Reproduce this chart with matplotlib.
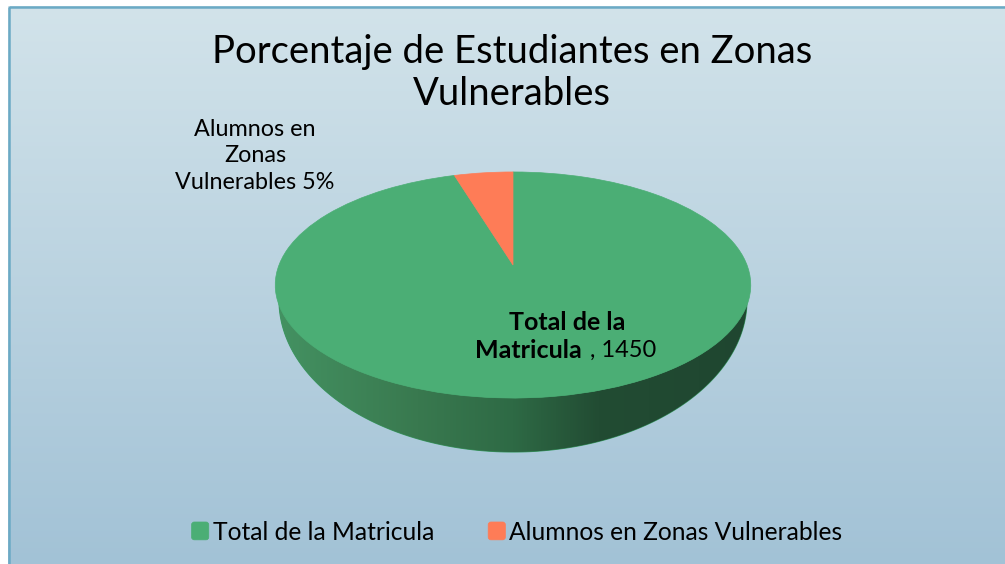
import numpy as np
import matplotlib
matplotlib.use("Agg")
import matplotlib.pyplot as plt
from matplotlib.colors import LinearSegmentedColormap
from matplotlib.legend_handler import HandlerPatch
from matplotlib.patches import FancyBboxPatch, PathPatch, Rectangle
from matplotlib.path import Path

# Data
categories = ["Total de la Matricula", "Alumnos en Zonas Vulnerables"]
values = [1450, 72]
colors = ["#4BAE75", "#FE7C57"]

plt.rcParams["font.family"] = ["Lato", "DejaVu Sans"]

W, H = 1005, 564
fig = plt.figure(figsize=(W / 100, H / 100), dpi=100)
ax = fig.add_axes([0, 0, 1, 1])

# pie first, unit circle, then pushed through a perspective map
wedges, _ = ax.pie(values, colors=colors, startangle=90, counterclock=False)

CX = 513
PERSP = 0.177


def project(verts):
    u, v = verts[:, 0], verts[:, 1]
    d = 1 + PERSP * v
    return np.column_stack([CX + 234 * u / d, (265 - 62.6 * v) / d])


def round_key(legend, orig_handle, xdescent, ydescent, width, height, fontsize):
    return FancyBboxPatch((-xdescent, -ydescent), width, height,
                          boxstyle="round,pad=0,rounding_size=2")


# background gradient
bg_cmap = LinearSegmentedColormap.from_list("bg", ["#D2E3EA", "#A2C2D6"])
bg = ax.imshow(np.linspace(0, 1, 256)[:, None], cmap=bg_cmap, extent=(8, 1006, 566, 6), zorder=0)

# side of the disc
t = np.linspace(np.pi, 0, 200)
top_x, top_y = CX + 236 * np.cos(t), 287 + 111 * np.sin(t)
low_x, low_y = CX + 234 * np.cos(t), 300 + 152 * np.sin(t)
side_xy = np.column_stack([np.r_[top_x, low_x[::-1]], np.r_[top_y, low_y[::-1]]])
side_patch = PathPatch(Path(np.r_[side_xy, side_xy[:1]], closed=True), fc="#3A9A63", ec="#3A9A63", lw=0.8, zorder=1)
ax.add_patch(side_patch)
side_cmap = LinearSegmentedColormap.from_list(
    "side",
    [(0, "#449262"), (0.3, "#39794F"), (0.5, "#2E6A45"), (0.68, "#224C33"), (1, "#1F4630")],
)
side = ax.imshow(np.linspace(0, 1, 256)[None, :], cmap=side_cmap, extent=(275, 751, 460, 280), zorder=2)
side.set_clip_path(PathPatch(side_patch.get_path(), transform=ax.transData))

# top of the disc
handles = []
for w, c in zip(wedges, colors):
    p = w.get_path()
    top = PathPatch(Path(project(p.vertices), p.codes), fc=c, ec=c, lw=0.5, zorder=3)
    ax.add_patch(top)
    handles.append(top)
    w.set_visible(False)

ax.set_aspect("auto")
ax.set_xlim(0, W)
ax.set_ylim(H, 0)
ax.axis("off")

# border
ax.add_patch(Rectangle((8.5, 6.5), 1000, 562, fc="none", ec="#6BAAC5", lw=1.8, zorder=4))

# texts
ax.text(512, 73, "Porcentaje de Estudiantes en Zonas\nVulnerables", fontsize=27.5,
        ha="center", va="center", linespacing=1.22, zorder=5)

pct = round(100 * values[1] / sum(values))
ax.text(255, 156, f"Alumnos en\nZonas\nVulnerables {pct}%", fontsize=16.8,
        ha="center", va="center", linespacing=1.32, zorder=5)
ax.text(567, 322, "Total de la", fontsize=18, fontweight="bold", ha="center", va="center", zorder=5)
ax.text(582, 350, "Matricula", fontsize=18, fontweight="bold", ha="right", va="center", zorder=5)
ax.text(590, 350, f", {values[0]}", fontsize=17, ha="left", va="center", zorder=5)

leg = ax.legend(handles, categories, ncol=2, loc="center", bbox_to_anchor=(517 / W, 1 - 532 / H),
                frameon=False, fontsize=17.7, handlelength=0.7, handleheight=0.74,
                handletextpad=0.16, columnspacing=2.2, borderpad=0,
                handler_map={PathPatch: HandlerPatch(patch_func=round_key)})
leg.set_zorder(5)

fig.savefig("out.png", dpi=100)
